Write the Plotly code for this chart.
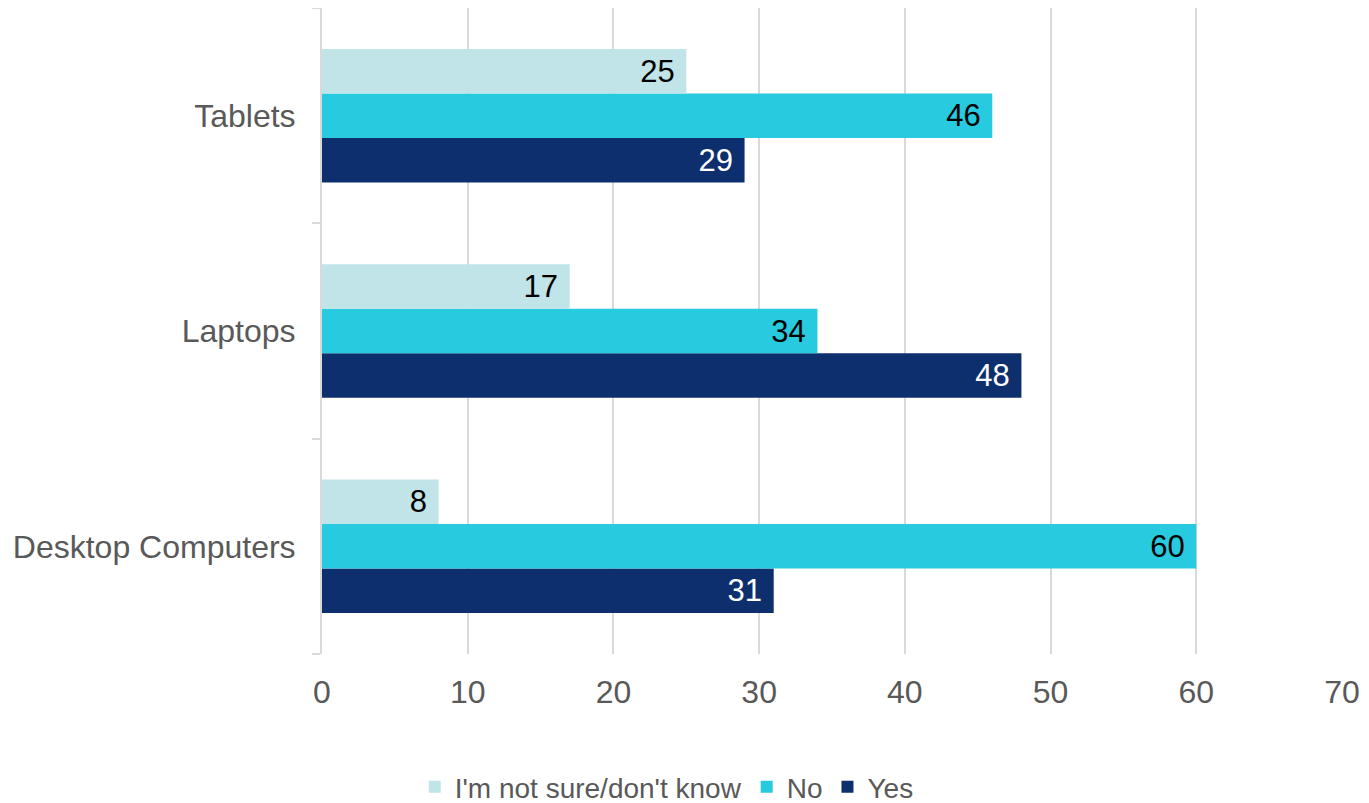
import plotly.graph_objects as go

categories = ["Desktop Computers", "Laptops", "Tablets"]
yes_vals = [31, 48, 29]
no_vals = [60, 34, 46]
notsure_vals = [8, 17, 25]

series = [
    ("Yes", yes_vals, "#0E2F6E", "#FFFFFF"),
    ("No", no_vals, "#28CAE0", "#000000"),
    ("I'm not sure/don't know", notsure_vals, "#C0E4E8", "#000000"),
]

FONT = "Liberation Sans, Arial, sans-serif"
FS = 32
fig = go.Figure()
for name, vals, color, tcolor in series:
    fig.add_trace(go.Bar(
        y=categories, x=vals, name=name, orientation="h",
        marker=dict(color=color, line=dict(width=0)),
        text=vals, texttemplate="%{x}&nbsp;",
        textposition="inside", insidetextanchor="end",
        textfont=dict(family=FONT, size=31, color=tcolor),
        constraintext="none",
    ))

fig.update_layout(
    width=1361, height=795,
    barmode="group", bargap=0.38, bargroupgap=0,
    plot_bgcolor="white", paper_bgcolor="white",
    margin=dict(l=314, r=27, t=0, b=149, autoexpand=False),
    font=dict(family=FONT, size=FS, color="#595959"),
    legend=dict(
        orientation="h", traceorder="reversed",
        xref="container", yref="paper",
        x=0.484, xanchor="center", y=-0.206, yanchor="middle",
        font=dict(size=28, color="#595959"),
        itemwidth=30,
    ),
    xaxis=dict(
        range=[0, 70], dtick=10, showgrid=True, gridcolor="#D9D9D9", gridwidth=2,
        zeroline=False, showline=False, ticks="", ticklabelstandoff=16,
        tickfont=dict(size=FS, color="#595959"), automargin=False,
    ),
    yaxis=dict(
        type="category", showline=True, linecolor="#D9D9D9", linewidth=2,
        ticks="outside", ticklen=8, tickcolor="#D9D9D9", tickwidth=2,
        tickson="boundaries", showgrid=False, ticklabelstandoff=18,
        tickfont=dict(size=FS, color="#595959"), automargin=False,
    ),
)

fig.write_html("out.html")
